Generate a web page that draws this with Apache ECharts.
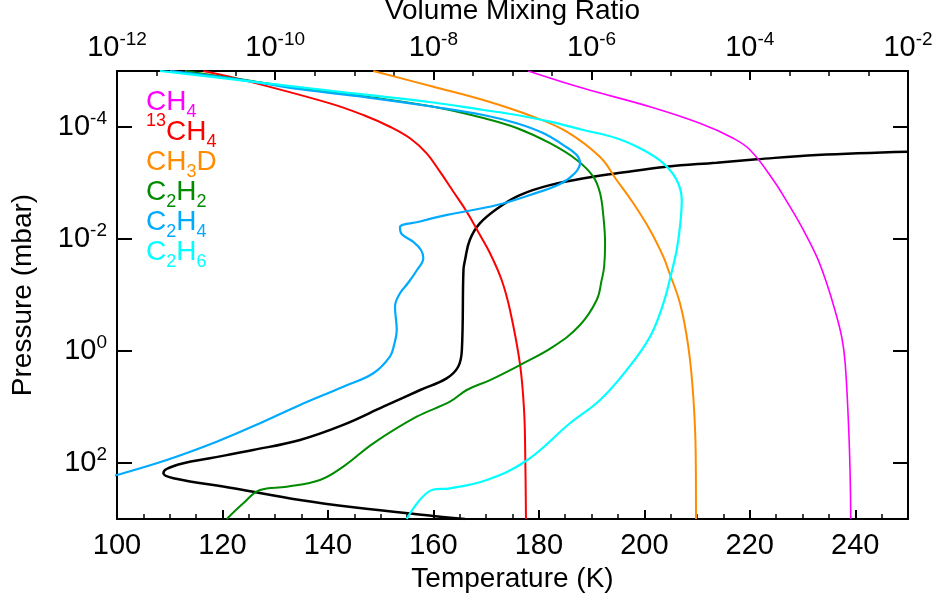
<!DOCTYPE html>
<html><head><meta charset="utf-8">
<script src="https://cdn.jsdelivr.net/npm/echarts@6/dist/echarts.min.js"></script>
<style>html,body{margin:0;padding:0;background:#fff}#c{width:937px;height:595px}</style>
</head><body><div id="c"></div>
<script>
// ---------- data (pressure in mbar, VMR dimensionless, temperature in K) ----------
const tempP = [2.76e-4,3.16e-4,3.78e-4,4.34e-4,5.12e-4,6.71e-4,7.71e-4,1.09e-3,1.64e-3,2.65e-3,5.25e-3,1.04e-2,2.37e-2,3.58e-2,0.96,1.91,3.08,4.97,9.89,20.9,38.8,58.6,82.4,101,128,153,187,283,458,618,883,1000];
const tempK = [250,232.7,221.3,213.7,204.2,194.8,190.3,182.1,176.4,172.6,168.8,166.9,166.0,165.7,165.4,164.7,162.5,157.5,150.5,142.9,134.7,125.8,117.6,112.6,109.4,108.8,110.7,122.1,134.7,144.8,160.0,166.0];

const ch4P   = [1e-5,2.04e-5,4.35e-5,8.59e-5,1.59e-4,2.58e-4,8.83e-4,2.65e-3,6.90e-3,2.07e-2,6.18e-2,0.185,0.556,1.55,17.1,133,1000];
const ch4Vmr = [1.58e-7,7.85e-7,5.47e-6,2.34e-5,6.18e-5,1.01e-4,1.98e-4,3.22e-4,4.75e-4,7.02e-4,9.38e-4,1.19e-3,1.45e-3,1.60e-3,1.76e-3,1.85e-3,1.89e-3];

const c13h4P   = [1e-5,1.45e-5,3.78e-5,6.11e-5,9.89e-5,1.59e-4,2.95e-4,6.28e-4,1.43e-3,3.25e-3,8.49e-3,1.80e-2,5.40e-2,0.185,1.66,11.3,77.3,1000];
const c13h4Vmr = [1.23e-11,3.95e-11,4.93e-10,1.30e-9,2.82e-9,5.06e-9,8.22e-9,1.21e-8,1.79e-8,2.64e-8,3.88e-8,5.20e-8,7.29e-8,9.29e-8,1.24e-7,1.40e-7,1.45e-7,1.48e-7];

const ch3dP   = [1e-5,1.91e-5,3.30e-5,6.55e-5,1.21e-4,3.44e-4,8.83e-4,2.30e-3,6.90e-3,2.07e-2,3.58e-2,0.141,0.838,6.55,67.1,1000];
const ch3dVmr = [1.74e-9,1.00e-8,4.28e-8,1.83e-7,4.84e-7,1.28e-6,2.07e-6,3.37e-6,5.47e-6,8.07e-6,9.33e-6,1.31e-5,1.67e-5,1.93e-5,2.07e-5,2.09e-5];

const c2h2P   = [1e-5,1.35e-5,2.04e-5,2.88e-5,4.35e-5,6.90e-5,1.04e-4,1.95e-4,3.88e-4,7.71e-4,1.53e-3,4.00e-3,1.19e-2,3.13e-2,5.40e-2,0.123,0.344,0.838,1.78,3.30,4.97,8.04,14.9,44.5,116,201,265,303,525,1000];
const c2h2Vmr = [7.24e-12,2.95e-11,2.06e-10,1.44e-9,1.00e-8,4.28e-8,1.13e-7,2.98e-7,6.49e-7,1.05e-6,1.28e-6,1.41e-6,1.48e-6,1.44e-6,1.34e-6,1.16e-6,7.13e-7,3.28e-7,1.24e-7,5.20e-8,2.64e-8,1.62e-8,6.15e-9,1.74e-9,7.26e-10,3.68e-10,1.40e-10,6.43e-11,3.95e-11,2.44e-11];

const c2h4P   = [1e-5,1.45e-5,2.12e-5,2.95e-5,4.35e-5,6.11e-5,8.59e-5,1.33e-4,2.09e-4,3.16e-4,4.40e-4,6.62e-4,1.04e-3,1.64e-3,2.47e-3,3.72e-3,4.86e-3,6.18e-3,8.15e-3,1.13e-2,1.57e-2,2.21e-2,3.58e-2,6.11e-2,9.33e-2,0.162,0.422,0.782,1.26,2.50,4.35,9.20,19.5,41.7,88.3,164,193];
const c2h4Vmr = [4.68e-12,3.95e-11,2.06e-10,1.44e-9,1.00e-8,4.28e-8,1.13e-7,2.58e-7,4.35e-7,6.49e-7,7.13e-7,6.17e-7,3.99e-7,1.66e-7,6.37e-8,1.49e-8,6.78e-9,3.78e-9,3.97e-9,5.57e-9,6.97e-9,7.45e-9,6.21e-9,4.78e-9,3.78e-9,3.27e-9,3.44e-9,3.18e-9,2.82e-9,1.74e-9,7.26e-10,2.06e-10,6.43e-11,1.82e-11,4.25e-12,9.91e-13,6.10e-13];

const c2h6P   = [1e-5,1.48e-5,2.28e-5,3.65e-5,4.97e-5,6.11e-5,8.04e-5,1.13e-4,1.59e-4,2.58e-4,4.45e-4,8.83e-4,2.01e-3,6.03e-3,1.57e-2,3.84e-2,0.141,0.556,2.18,7.50,19.5,90.2,201,283,297,1000];
const c2h6Vmr = [3.50e-12,3.95e-11,5.43e-10,1.00e-8,4.28e-8,1.13e-7,2.98e-7,7.85e-7,2.07e-6,4.51e-6,8.07e-6,1.19e-5,1.38e-5,1.31e-5,1.19e-5,1.03e-5,8.07e-6,5.47e-6,2.78e-6,1.28e-6,5.33e-7,1.51e-7,4.72e-8,1.62e-8,1.00e-8,4.59e-9];

// tick labels (powers of ten / kelvin)
const pressureTickExp = [-4, -2, 0, 2];
const vmrTickExp = [-12, -10, -8, -6, -4, -2];
const tempTicks = [100, 120, 140, 160, 180, 200, 220, 240];

const FONT = 'Liberation Sans, Arial, Helvetica, sans-serif';
const colors = {ch4:'#ff00ff', c13:'#ff0000', ch3d:'#ff8c00', c2h2:'#008c00', c2h4:'#00aaff', c2h6:'#00ffff', temp:'#000000'};

function logPairs(vals, ps) { return vals.map((v, i) => [Math.log10(v), Math.log10(ps[i])]); }
function tPairs(ts, ps) { return ts.map((t, i) => [t, Math.log10(ps[i])]); }

const powRich = {
  b: {fontSize: 29, fontFamily: FONT, color: '#000'},
  s: {fontSize: 19, fontFamily: FONT, color: '#000', padding: [0, 0, 17, 0]}
};
const powFmt = v => '{b|10}{s|' + v + '}';

const chart = echarts.init(document.getElementById('c'), null, {renderer: 'canvas'});

const lineSeries = (name, data, color, width, xi) => ({
  name, type: 'line', data, xAxisIndex: xi, yAxisIndex: 0,
  showSymbol: false, smooth: 0.4, animation: false,
  lineStyle: {color, width}, itemStyle: {color}, z: 3
});

const legendRich = {
  m: {fontSize: 28, fontFamily: FONT},
  sb: {fontSize: 18, fontFamily: FONT, padding: [20, 0, 0, 0]},
  sp: {fontSize: 18, fontFamily: FONT, padding: [0, 0, 22, 0]}
};
const legendItems = [
  ['{m|CH}{sb|4}', colors.ch4],
  ['{sp|13}{m|CH}{sb|4}', colors.c13],
  ['{m|CH}{sb|3}{m|D}', colors.ch3d],
  ['{m|C}{sb|2}{m|H}{sb|2}', colors.c2h2],
  ['{m|C}{sb|2}{m|H}{sb|4}', colors.c2h4],
  ['{m|C}{sb|2}{m|H}{sb|6}', colors.c2h6]
];

const option = {
  backgroundColor: '#fff',
  animation: false,
  grid: {left: 117, top: 71, width: 791, height: 448, containLabel: false, outerBoundsMode: 'none'},
  xAxis: [
    { // temperature, bottom
      type: 'value', position: 'bottom', min: 100, max: 250, interval: 20,
      name: 'Temperature (K)', nameLocation: 'middle', nameGap: 46,
      nameTextStyle: {fontSize: 28, fontFamily: FONT, color: '#000'},
      axisLine: {show: true, onZero: false, lineStyle: {color: '#000', width: 2}},
      axisTick: {show: true, inside: true, length: 9, lineStyle: {color: '#000', width: 2}},
      axisLabel: {fontSize: 29, fontFamily: FONT, color: '#000', margin: 12,
        formatter: v => (tempTicks.indexOf(v) >= 0 ? String(v) : '')},
      splitLine: {show: false}
    },
    { // temperature minor ticks
      type: 'value', position: 'bottom', min: 100, max: 250, interval: 5,
      axisLine: {show: false, onZero: false},
      axisTick: {show: true, inside: true, length: 5, lineStyle: {color: '#000', width: 1.5}},
      axisLabel: {show: false}, splitLine: {show: false}
    },
    { // volume mixing ratio (log10), top
      type: 'value', position: 'top', min: vmrTickExp[0], max: vmrTickExp[vmrTickExp.length - 1], interval: 2,
      name: 'Volume Mixing Ratio', nameLocation: 'middle', nameGap: 34,
      nameTextStyle: {fontSize: 28, fontFamily: FONT, color: '#000'},
      axisLine: {show: true, onZero: false, lineStyle: {color: '#000', width: 2}},
      axisTick: {show: true, inside: true, length: 9, lineStyle: {color: '#000', width: 2}},
      minorTick: {show: true, splitNumber: 4, length: 5, lineStyle: {color: '#000', width: 1.5}},
      axisLabel: {formatter: powFmt, rich: powRich, margin: 5},
      splitLine: {show: false}, minorSplitLine: {show: false}
    }
  ],
  yAxis: [
    {
      type: 'value', position: 'left', min: -5, max: 3, inverse: true,
      name: 'Pressure (mbar)', nameLocation: 'middle', nameGap: 80, nameRotate: 90,
      nameTextStyle: {fontSize: 28, fontFamily: FONT, color: '#000'},
      axisLine: {show: true, onZero: false, lineStyle: {color: '#000', width: 2}},
      axisTick: {show: true, inside: true, length: 15, customValues: pressureTickExp, lineStyle: {color: '#000', width: 2}},
      axisLabel: {customValues: pressureTickExp, formatter: powFmt, rich: powRich, margin: 10},
      splitLine: {show: false}
    },
    {
      type: 'value', position: 'right', min: -5, max: 3, inverse: true,
      axisLine: {show: true, onZero: false, lineStyle: {color: '#000', width: 2}},
      axisTick: {show: true, inside: true, length: 15, customValues: pressureTickExp, lineStyle: {color: '#000', width: 2}},
      axisLabel: {show: false},
      splitLine: {show: false}
    }
  ],
  series: [
    lineSeries('Temperature', tPairs(tempK, tempP), colors.temp, 2.5, 0),
    lineSeries('CH4', logPairs(ch4Vmr, ch4P), colors.ch4, 1.6, 2),
    lineSeries('13CH4', logPairs(c13h4Vmr, c13h4P), colors.c13, 2, 2),
    lineSeries('CH3D', logPairs(ch3dVmr, ch3dP), colors.ch3d, 2, 2),
    lineSeries('C2H2', logPairs(c2h2Vmr, c2h2P), colors.c2h2, 2, 2),
    lineSeries('C2H4', logPairs(c2h4Vmr, c2h4P), colors.c2h4, 2.2, 2),
    lineSeries('C2H6', logPairs(c2h6Vmr, c2h6P), colors.c2h6, 2.2, 2)
  ],
  graphic: legendItems.map((it, i) => ({
    type: 'text', x: 146, y: 102 + 30 * i, z: 10,
    style: {text: it[0], rich: legendRich, fill: it[1], align: 'left', verticalAlign: 'middle', font: '28px ' + FONT}
  }))
};
chart.setOption(option);
</script></body></html>
